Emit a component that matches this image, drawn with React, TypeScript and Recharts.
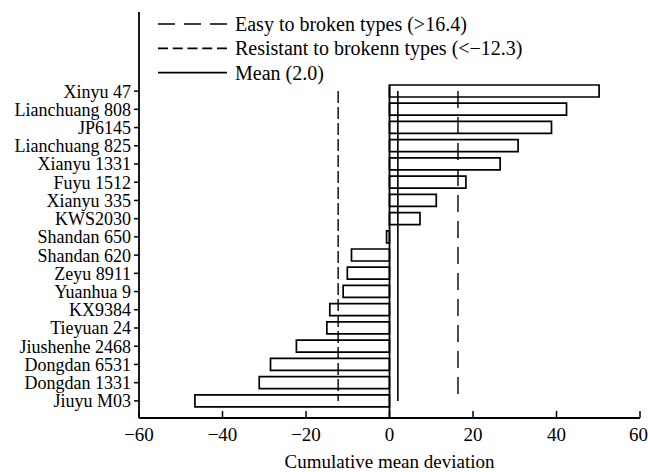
import React from 'react';
import { BarChart, Bar, XAxis, YAxis, ReferenceLine } from 'recharts';

const categories = [
  'Xinyu 47', 'Lianchuang 808', 'JP6145', 'Lianchuang 825', 'Xianyu 1331', 'Fuyu 1512',
  'Xianyu 335', 'KWS2030', 'Shandan 650', 'Shandan 620', 'Zeyu 8911', 'Yuanhua 9',
  'KX9384', 'Tieyuan 24', 'Jiushenhe 2468', 'Dongdan 6531', 'Dongdan 1331', 'Jiuyu M03',
];
const deviations = [
  50.2, 42.4, 38.8, 30.8, 26.5, 18.3,
  11.2, 7.3, -0.7, -9.1, -10.1, -11.1,
  -14.3, -15.0, -22.3, -28.5, -31.2, -46.6,
];
const xTicks = [-60, -40, -20, 0, 20, 40, 60];
const easyThreshold = 16.4;
const resistantThreshold = -12.3;
const meanValue = 2.0;
const legendItems = [
  { label: 'Easy to broken types (>16.4)', dash: '17 9' },
  { label: 'Resistant to brokenn types (<\u221212.3)', dash: '10 4.75' },
  { label: 'Mean (2.0)', dash: '' },
];

const data = categories.map((name, i) => ({ name, value: deviations[i] }));

const FONT = '"Liberation Serif", "Times New Roman", serif';
const fmt = (v: number) => String(v).replace('-', '\u2212');

const ZeroLine = (props: any) => {
  const { x1, x2, y1, y2 } = props;
  const band = (y2 - y1) / (categories.length - 1);
  return (
    <line x1={x1} x2={x2} y1={y1 - band * 0.33} y2={y2 + band * 0.97} stroke="#000" strokeWidth={1.8} />
  );
};

const first = categories[0];
const last = categories[categories.length - 1];

export default function App() {
  return (
    <div style={{ position: 'absolute', left: 0, top: 0, width: 648, height: 472, background: '#fff' }}>
      <BarChart
        width={648}
        height={472}
        data={data}
        layout="vertical"
        margin={{ top: 12, right: 8, bottom: 0, left: 0 }}
        style={{ fontFamily: FONT }}
      >
        <XAxis
          type="number"
          domain={[-60, 60]}
          ticks={xTicks}
          tickFormatter={fmt}
          height={54}
          tickSize={-7}
          tickMargin={17}
          axisLine={{ stroke: '#000', strokeWidth: 1.8 }}
          tickLine={{ stroke: '#000', strokeWidth: 1.5 }}
          tick={{ fill: '#000', fontSize: 19, fontFamily: FONT }}
          label={{ value: 'Cumulative mean deviation', position: 'insideBottom', offset: 4, fill: '#000', fontSize: 19, fontFamily: FONT }}
        />
        <YAxis
          type="category"
          dataKey="name"
          width={139}
          padding={{ top: 70, bottom: 8 }}
          tickSize={5}
          tickMargin={3}
          interval={0}
          axisLine={{ stroke: '#000', strokeWidth: 1.8 }}
          tickLine={{ stroke: '#000', strokeWidth: 1.5 }}
          tick={{ fill: '#000', fontSize: 18, fontFamily: FONT }}
        />
        <Bar dataKey="value" fill="#fff" stroke="#000" strokeWidth={1.7} barSize={12} isAnimationActive={false} />
        <ReferenceLine
          segment={[{ x: 0, y: first }, { x: 0, y: last }]}
          shape={ZeroLine}
        />
        <ReferenceLine
          segment={[{ x: meanValue, y: first }, { x: meanValue, y: last }]}
          stroke="#000"
          strokeWidth={1.6}
        />
        <ReferenceLine
          segment={[{ x: easyThreshold, y: first }, { x: easyThreshold, y: last }]}
          stroke="#000"
          strokeWidth={1.4}
          strokeDasharray="17 9"
        />
        <ReferenceLine
          segment={[{ x: resistantThreshold, y: first }, { x: resistantThreshold, y: last }]}
          stroke="#000"
          strokeWidth={1.4}
          strokeDasharray="12 4"
        />
      </BarChart>
      <svg
        width={420}
        height={90}
        style={{ position: 'absolute', left: 150, top: 8 }}
      >
        {legendItems.map((item, i) => (
          <g key={item.label}>
            <line
              x1={8}
              x2={77}
              y1={16 + i * 24.3}
              y2={16 + i * 24.3}
              stroke="#000"
              strokeWidth={1.7}
              strokeDasharray={item.dash || undefined}
            />
            <text x={85} y={16 + i * 24.3} dy="0.35em" fontSize={20} fontFamily={FONT} fill="#000">
              {item.label}
            </text>
          </g>
        ))}
      </svg>
    </div>
  );
}
